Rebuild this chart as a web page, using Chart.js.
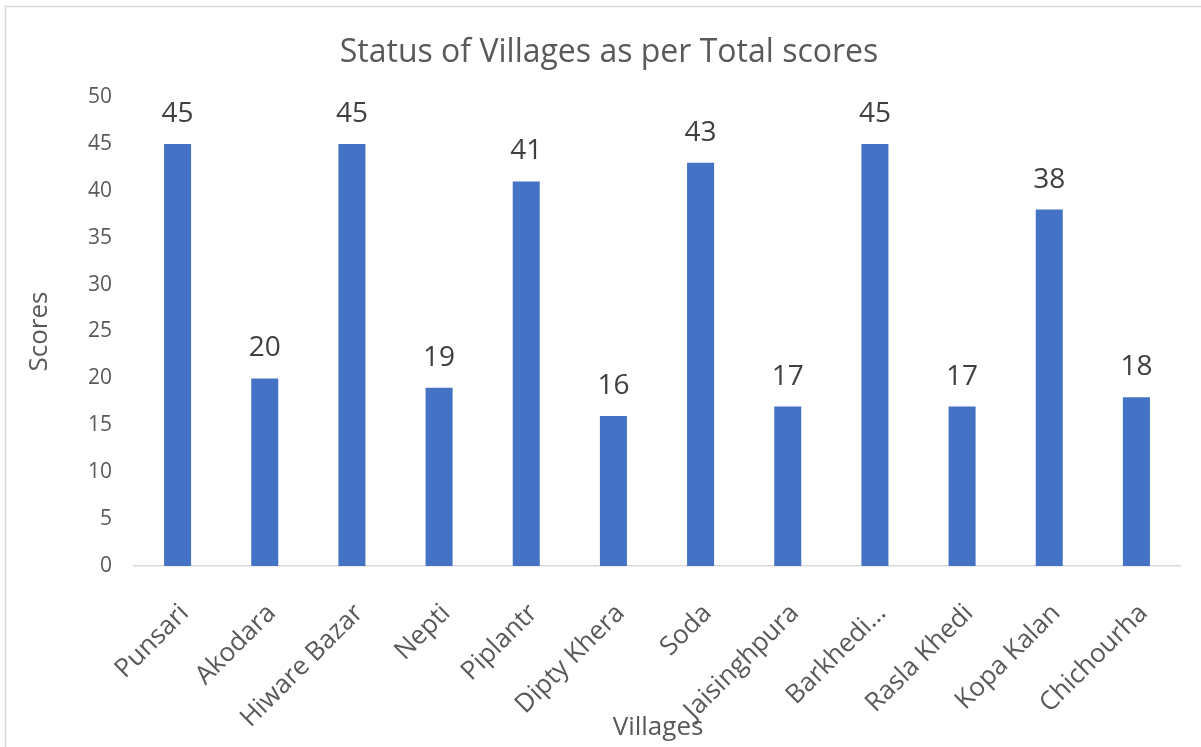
<!DOCTYPE html>
<html>
<head>
<meta charset="utf-8">
<script src="https://cdn.jsdelivr.net/npm/chart.js@4.4.1/dist/chart.umd.min.js"></script>
<style>
    body { margin: 0; background: #fff; }
    #chart { position: absolute; left: 0; top: 0; }
</style>
</head>
<body>
<canvas id="chart" width="1201" height="747"></canvas>
<script>
const villages = ['Punsari', 'Akodara', 'Hiware Bazar', 'Nepti', 'Piplantr', 'Dipty Khera',
    'Soda', 'Jaisinghpura', 'Barkhedi…', 'Rasla Khedi', 'Kopa Kalan', 'Chichourha'];
const scores = [45, 20, 45, 19, 41, 16, 43, 17, 45, 17, 38, 18];
const yTicks = [0, 5, 10, 15, 20, 25, 30, 35, 40, 45, 50];

const FONT = "'Open Sans', 'Noto Sans', sans-serif";
const GREY = '#595959';

// frame, chart title, value labels and x title drawn by hand
const extras = {
    id: 'extras',
    beforeDraw(chart) {
        const ctx = chart.ctx;
        ctx.save();
        ctx.fillStyle = '#fff';
        ctx.fillRect(0, 0, chart.width, chart.height);
        ctx.strokeStyle = '#d9d9d9';
        ctx.lineWidth = 1.5;
        ctx.strokeRect(5.5, 6.5, 1300, 800);
        ctx.restore();
    },
    afterDatasetsDraw(chart) {
        const ctx = chart.ctx;
        const meta = chart.getDatasetMeta(0);
        ctx.save();
        ctx.font = '28px ' + FONT;
        ctx.fillStyle = '#404040';
        ctx.textAlign = 'center';
        ctx.textBaseline = 'middle';
        meta.data.forEach((bar, i) => {
            ctx.fillText(scores[i], bar.x, bar.y - 30);
        });
        ctx.restore();
    },
    afterDraw(chart) {
        const ctx = chart.ctx;
        ctx.save();
        ctx.fillStyle = GREY;
        ctx.textAlign = 'center';
        ctx.textBaseline = 'middle';
        ctx.font = '32px ' + FONT;
        ctx.fillText('Status of Villages as per Total scores', 609, 53);
        ctx.font = '26px ' + FONT;
        ctx.fillText('Villages', 658, 728);
        ctx.restore();
    }
};

new Chart(document.getElementById('chart'), {
    type: 'bar',
    data: {
        labels: villages,
        datasets: [{
            data: scores,
            backgroundColor: '#4472c4',
            barPercentage: 0.31,
            categoryPercentage: 1
        }]
    },
    options: {
        responsive: false,
        animation: false,
        layout: { padding: { left: 0, right: 21, top: 97, bottom: 0 } },
        plugins: {
            legend: { display: false },
            tooltip: { enabled: false },
            title: { display: false }
        },
        scales: {
            x: {
                grid: { display: false },
                border: { display: true, color: '#d9d9d9', width: 1.5 },
                ticks: {
                    color: GREY,
                    font: { family: FONT, size: 26 },
                    maxRotation: 45,
                    minRotation: 45,
                    padding: 24,
                    labelOffset: 7,
                    autoSkip: false
                },
                afterFit(scale) { scale.height = 181; }
            },
            y: {
                min: 0,
                max: 50,
                afterBuildTicks(scale) { scale.ticks = yTicks.map(v => ({ value: v })); },
                grid: { display: false, drawTicks: false },
                border: { display: false },
                ticks: {
                    color: GREY,
                    font: { family: FONT, size: 21 },
                    padding: 22
                },
                title: {
                    display: true,
                    text: 'Scores',
                    color: GREY,
                    font: { family: FONT, size: 26 },
                    padding: { top: 24 }
                },
                afterFit(scale) { scale.width = 134; }
            }
        }
    },
    plugins: [extras]
});
</script>
</body>
</html>
